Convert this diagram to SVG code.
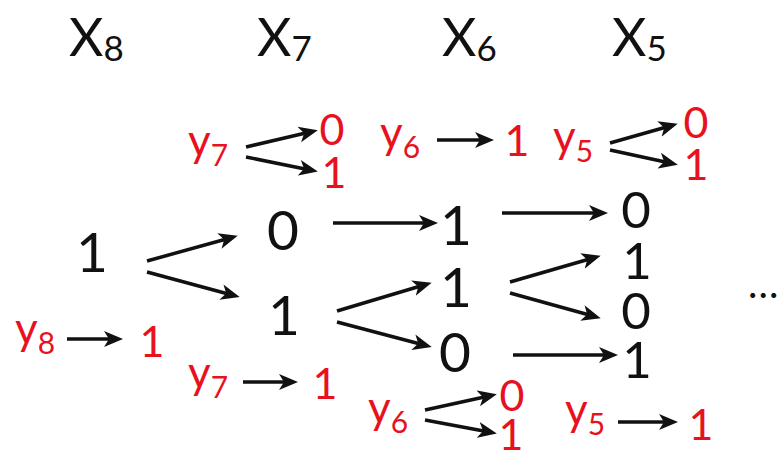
<svg xmlns="http://www.w3.org/2000/svg" width="782" height="450" viewBox="0 0 782 450">
<style>
text{font-family:Lato,"Open Sans","Liberation Sans",sans-serif}
.h{font-size:53px;fill:#111}
.hs{font-size:35px}
.b{font-size:55px;fill:#111;text-anchor:middle}
.b4{font-size:51px}
.r{font-size:43px;fill:#e8121f;text-anchor:middle}
.ry{font-size:44px;fill:#e8121f}
.rs{font-size:30px}
.a{stroke:#111;stroke-width:3.5;fill:none;marker-end:url(#ah)}
</style>
<defs>
<marker id="ah" markerUnits="userSpaceOnUse" markerWidth="19" markerHeight="17" viewBox="0 0 19 17" refX="11" refY="8.5" orient="auto">
<path d="M0,0.5 L19,8.5 L0,16.5 L5,8.5 z" fill="#111"/>
</marker>
</defs>
<rect width="782" height="450" fill="#fff"/>
<g id="headers">
<text class="h" x="69" y="56">X<tspan class="hs" dy="5">8</tspan></text>
<text class="h" x="257" y="56">X<tspan class="hs" dy="5">7</tspan></text>
<text class="h" x="442" y="56">X<tspan class="hs" dy="5">6</tspan></text>
<text class="h" x="612" y="56">X<tspan class="hs" dy="5">5</tspan></text>
</g>
<g id="n8"><text class="b" x="92" y="272">1</text></g>
<g id="n7a"><text class="b" x="283" y="250">0</text></g>
<g id="n7b"><text class="b" x="284" y="335">1</text></g>
<g id="n6a"><text class="b" x="456" y="245">1</text></g>
<g id="n6b"><text class="b" x="456" y="307">1</text></g>
<g id="n6c"><text class="b" x="455" y="372">0</text></g>
<g id="n5a"><text class="b b4" x="636" y="228">0</text></g>
<g id="n5b"><text class="b b4" x="637" y="279">1</text></g>
<g id="n5c"><text class="b b4" x="636" y="329">0</text></g>
<g id="n5d"><text class="b b4" x="637" y="378">1</text></g>
<g id="more"><text x="748" y="298" style="font-size:40px;fill:#111;letter-spacing:1px">...</text></g>
<g id="ann">
<text class="ry" x="188" y="156">y<tspan class="rs" dy="10">7</tspan></text>
<text class="r" x="332" y="145">0</text>
<text class="r" x="334" y="188">1</text>
<text class="ry" x="380" y="148">y<tspan class="rs" dy="10">6</tspan></text>
<text class="r" x="517" y="156">1</text>
<text class="ry" x="553" y="152">y<tspan class="rs" dy="10">5</tspan></text>
<text class="r" x="696" y="138">0</text>
<text class="r" x="696" y="180">1</text>
<text class="ry" x="15" y="344">y<tspan class="rs" dy="10">8</tspan></text>
<text class="r" x="152" y="357">1</text>
<text class="ry" x="188" y="388">y<tspan class="rs" dy="10">7</tspan></text>
<text class="r" x="325" y="399">1</text>
<text class="ry" x="368" y="423">y<tspan class="rs" dy="10">6</tspan></text>
<text class="r" x="512" y="411">0</text>
<text class="r" x="511" y="450">1</text>
<text class="ry" x="565" y="425">y<tspan class="rs" dy="10">5</tspan></text>
<text class="r" x="701" y="440">1</text>
</g>
<g id="connectors">
<line class="a" x1="147" y1="261" x2="230" y2="238"/>
<line class="a" x1="147" y1="272" x2="232" y2="295"/>
<line class="a" x1="333" y1="223" x2="430" y2="223"/>
<line class="a" x1="337" y1="311" x2="424" y2="285"/>
<line class="a" x1="337" y1="322" x2="424" y2="345"/>
<line class="a" x1="502" y1="213" x2="600" y2="213"/>
<line class="a" x1="510" y1="282" x2="593" y2="258"/>
<line class="a" x1="510" y1="293" x2="593" y2="316"/>
<line class="a" x1="513" y1="355" x2="610" y2="355"/>
<line class="a" x1="246" y1="147" x2="310" y2="132"/>
<line class="a" x1="246" y1="157" x2="310" y2="170"/>
<line class="a" x1="437" y1="140" x2="486" y2="140"/>
<line class="a" x1="610" y1="143" x2="670" y2="126"/>
<line class="a" x1="610" y1="150" x2="670" y2="163"/>
<line class="a" x1="67" y1="339" x2="115" y2="339"/>
<line class="a" x1="243" y1="382" x2="290" y2="382"/>
<line class="a" x1="425" y1="410" x2="489" y2="396"/>
<line class="a" x1="425" y1="420" x2="489" y2="432"/>
<line class="a" x1="618" y1="422" x2="670" y2="422"/>
</g>
</svg>
